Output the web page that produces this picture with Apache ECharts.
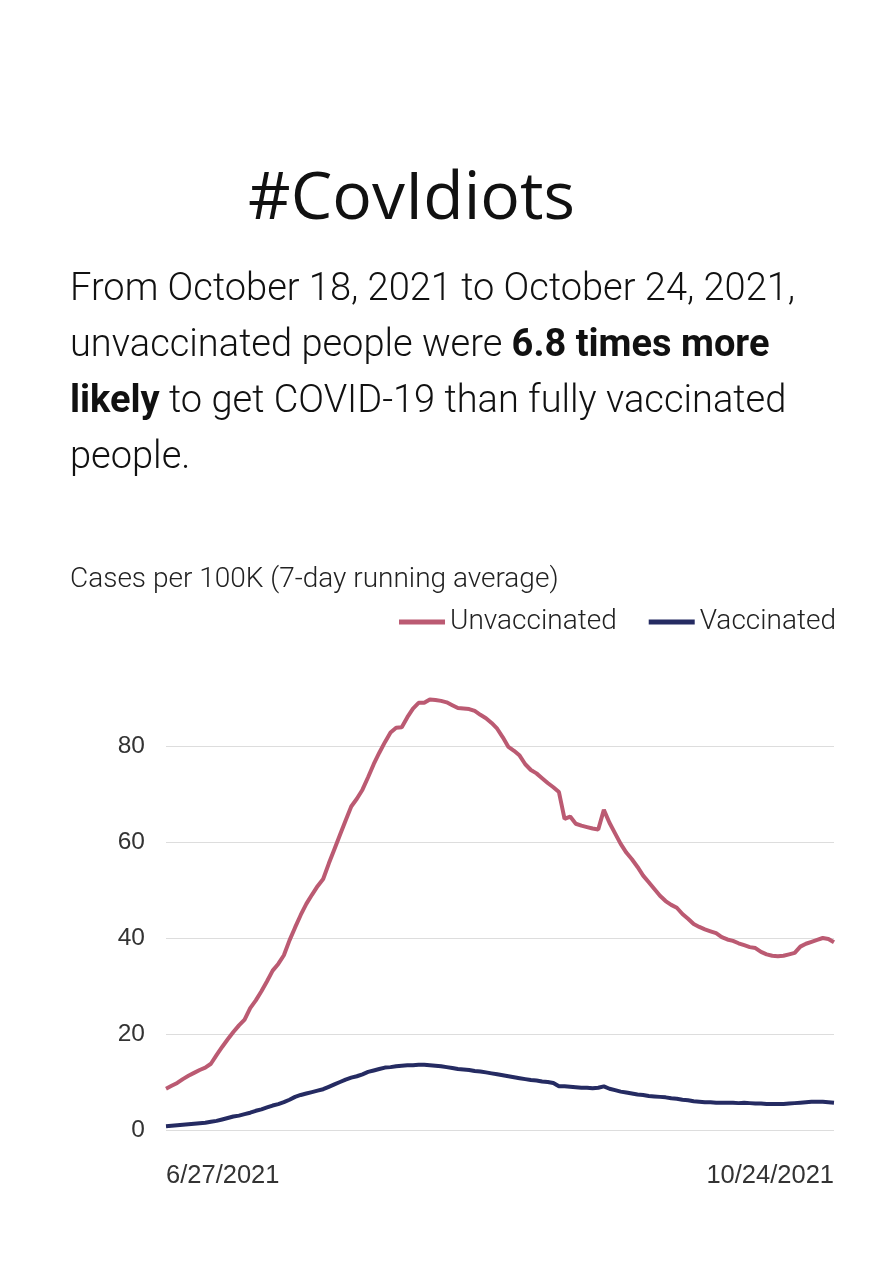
<!DOCTYPE html>
<html>
<head>
<meta charset="utf-8">
<script src="https://cdn.jsdelivr.net/npm/echarts@6/dist/echarts.min.js"></script>
<style>
  html, body { margin: 0; padding: 0; background: #fff; }
  #wrap { position: relative; width: 888px; height: 1276px; overflow: hidden; }
  #title { position: absolute; left: 248px; top: 148px; font-family: "Open Sans", sans-serif; font-size: 66px; color: #111; white-space: nowrap; line-height: normal; }
  #para { position: absolute; left: 70px; top: 259px; font-family: Roboto, sans-serif; font-weight: 300; font-size: 38px; line-height: 56px; color: #111; white-space: nowrap; }
  #para b { font-weight: 700; }
  #chart { position: absolute; left: 0; top: 0; width: 888px; height: 1276px; }
</style>
</head>
<body>
<div id="wrap">
  <div id="chart"></div>
  <div id="title">#CovIdiots</div>
  <div id="para">From October 18, 2021 to October 24, 2021,<br>unvaccinated people were <b>6.8 times more</b><br><b>likely</b> to get COVID-19 than fully vaccinated<br>people.</div>
</div>
<script>
// ---- data ----
const startDate = "2021-06-27";
const dayCount = 120;
const tickLabels = ["6/27/2021", "10/24/2021"];
const yTicks = [0, 20, 40, 60, 80];
const seriesNames = ["Unvaccinated", "Vaccinated"];

const unvaccinated = [
  8.6, 9.2, 9.8, 10.6, 11.3, 11.9, 12.5, 13.0, 13.8, 15.6,
  17.3, 18.9, 20.4, 21.8, 23.0, 25.4, 27.0, 28.9, 31.0, 33.2,
  34.6, 36.4, 39.5, 42.2, 44.8, 47.1, 49.0, 50.8, 52.3, 55.5,
  58.5, 61.5, 64.5, 67.4, 69.0, 70.9, 73.5, 76.2, 78.6, 80.8,
  82.8, 83.8, 83.9, 86.0, 87.8, 89.0, 89.0, 89.7, 89.6, 89.4,
  89.1, 88.5, 87.9, 87.8, 87.7, 87.3, 86.5, 85.8, 84.8, 83.6,
  81.8, 79.8, 79.0, 78.0, 76.2, 75.0, 74.3, 73.3, 72.3, 71.4,
  70.4, 64.8, 65.3, 63.8, 63.4, 63.1, 62.8, 62.6, 66.7, 64.0,
  61.8, 59.6, 57.8, 56.4, 54.8, 53.0, 51.6, 50.2, 48.8, 47.7,
  46.9, 46.3, 45.0, 44.0, 42.9, 42.3, 41.8, 41.4, 41.0, 40.2,
  39.7, 39.4, 38.9, 38.5, 38.1, 37.9, 37.1, 36.6, 36.3, 36.2,
  36.3, 36.6, 36.9, 38.2, 38.8, 39.2, 39.6, 40.0, 39.8, 39.1
];

const vaccinated = [
  0.8, 0.9, 1.0, 1.1, 1.2, 1.3, 1.4, 1.5, 1.7, 1.9,
  2.2, 2.5, 2.8, 3.0, 3.3, 3.6, 4.0, 4.3, 4.7, 5.1,
  5.4, 5.8, 6.3, 6.9, 7.3, 7.6, 7.9, 8.2, 8.5, 9.0,
  9.5, 10.0, 10.5, 10.9, 11.2, 11.6, 12.1, 12.4, 12.7, 13.0,
  13.1, 13.3, 13.4, 13.5, 13.5, 13.6, 13.6, 13.5, 13.4, 13.3,
  13.1, 12.9, 12.7, 12.6, 12.5, 12.3, 12.2, 12.0, 11.8, 11.6,
  11.4, 11.2, 11.0, 10.8, 10.6, 10.4, 10.3, 10.1, 10.0, 9.8,
  9.1, 9.1, 9.0, 8.9, 8.8, 8.8, 8.7, 8.8, 9.1, 8.6,
  8.3, 8.0, 7.8, 7.6, 7.4, 7.3, 7.1, 7.0, 6.9, 6.8,
  6.6, 6.5, 6.3, 6.2, 6.0, 5.9, 5.8, 5.8, 5.7, 5.7,
  5.7, 5.7, 5.6, 5.7, 5.6, 5.5, 5.5, 5.4, 5.4, 5.4,
  5.4, 5.5, 5.6, 5.7, 5.8, 5.9, 5.9, 5.9, 5.8, 5.7
];

// build category dates (M/D/YYYY)
const categories = [];
{
  const d0 = new Date(startDate + "T12:00:00Z");
  for (let i = 0; i < dayCount; i++) {
    const d = new Date(d0.getTime() + i * 86400000);
    categories.push((d.getUTCMonth() + 1) + "/" + d.getUTCDate() + "/" + d.getUTCFullYear());
  }
}

const chart = echarts.init(document.getElementById("chart"), null, { renderer: "canvas" });
chart.setOption({
  backgroundColor: "#ffffff",
  animation: false,
  title: {
    text: "Cases per 100K (7-day running average)",
    left: 70,
    top: 566,
    padding: 0,
    textStyle: { fontFamily: "Roboto", fontWeight: 300, fontSize: 28, color: "#222" }
  },
  legend: {
    data: seriesNames,
    right: 52,
    top: 608,
    padding: 0,
    icon: "rect",
    itemWidth: 46,
    itemHeight: 5,
    itemGap: 32,
    textStyle: { fontFamily: "Roboto", fontWeight: 300, fontSize: 28, color: "#222" }
  },
  grid: { left: 166, right: 54, top: 746, bottom: 146, containLabel: false },
  xAxis: {
    type: "category",
    data: categories,
    boundaryGap: false,
    axisLine: { show: false },
    axisTick: { show: false },
    axisLabel: {
      margin: 33,
      fontFamily: "Liberation Sans",
      fontSize: 25.5,
      color: "#333",
      interval: 0,
      alignMinLabel: "left",
      alignMaxLabel: "right",
      formatter: function (v) { return tickLabels.indexOf(v) >= 0 ? v : ""; }
    },
    splitLine: { show: false }
  },
  yAxis: {
    type: "value",
    min: yTicks[0],
    max: yTicks[yTicks.length - 1],
    interval: 20,
    axisLine: { show: false },
    axisTick: { show: false },
    axisLabel: { margin: 21, fontFamily: "Liberation Sans", fontSize: 24.5, color: "#333" },
    splitLine: { lineStyle: { color: "#dddddd", width: 1 } }
  },
  series: [
    {
      name: seriesNames[0],
      type: "line",
      data: unvaccinated,
      showSymbol: false,
      clip: false,
      lineStyle: { color: "#bb5a72", width: 4 },
      itemStyle: { color: "#bb5a72" }
    },
    {
      name: seriesNames[1],
      type: "line",
      data: vaccinated,
      showSymbol: false,
      clip: false,
      lineStyle: { color: "#252b62", width: 4 },
      itemStyle: { color: "#252b62" }
    }
  ]
});
</script>
</body>
</html>
